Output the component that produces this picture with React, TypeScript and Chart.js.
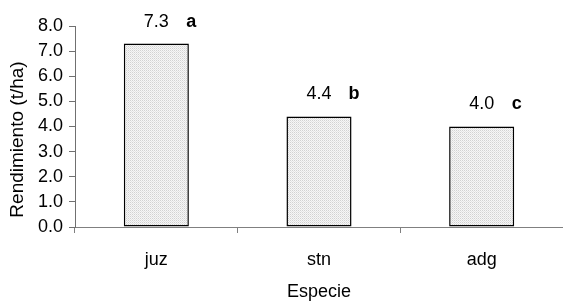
import React, { useEffect, useRef } from "react";
import { Chart, registerables } from "chart.js";

Chart.register(...registerables);

const categories = ["juz", "stn", "adg"];
const values = [7.3, 4.4, 4.0];
const letters = ["a", "b", "c"];
const yTicks = [0, 1, 2, 3, 4, 5, 6, 7, 8];
const xTitle = "Especie";
const yTitle = "Rendimiento (t/ha)";

const FONT = "'Liberation Sans', Arial, sans-serif";

function makePattern(): CanvasPattern | string {
  const c = document.createElement("canvas");
  c.width = 2;
  c.height = 2;
  const g = c.getContext("2d");
  if (!g) return "#e6e6e6";
  g.fillStyle = "#f6f6f6";
  g.fillRect(0, 0, 2, 2);
  g.fillStyle = "#d2d2d2";
  g.fillRect(0, 0, 1, 1);
  g.fillStyle = "#e4e4e4";
  g.fillRect(1, 1, 1, 1);
  const p = g.createPattern(c, "repeat");
  return p || "#e6e6e6";
}

const labelPlugin = {
  id: "valueLabels",
  afterDatasetsDraw(chart: any) {
    const ctx = chart.ctx;
    const meta = chart.getDatasetMeta(0);
    const area = chart.chartArea;
    ctx.save();
    ctx.fillStyle = "#000";
    ctx.textBaseline = "middle";
    meta.data.forEach((bar: any, i: number) => {
      ctx.font = `18px ${FONT}`;
      ctx.textAlign = "center";
      ctx.fillText(values[i].toFixed(1), bar.x, bar.y - 22);
      ctx.font = `bold 18px ${FONT}`;
      ctx.fillText(letters[i], bar.x + 35, bar.y - 22);
    });
    // axis titles
    ctx.font = `18px ${FONT}`;
    ctx.textAlign = "center";
    ctx.fillText(xTitle, (area.left + area.right) / 2, 292);
    ctx.translate(18, area.top + (area.bottom - area.top) / 2 + 13);
    ctx.rotate(-Math.PI / 2);
    ctx.font = `19px ${FONT}`;
    ctx.fillText(yTitle, 0, 0);
    ctx.restore();
  },
};

export default function App() {
  const ref = useRef<HTMLCanvasElement | null>(null);
  useEffect(() => {
    if (!ref.current) return;
    const chart = new Chart(ref.current, {
      type: "bar",
      data: {
        labels: categories,
        datasets: [
          {
            data: values,
            backgroundColor: makePattern() as any,
            borderColor: "#000",
            borderWidth: 1.5,
            borderSkipped: false,
            barPercentage: 0.4,
            categoryPercentage: 1,
          },
        ],
      },
      options: {
        animation: false,
        responsive: false,
        devicePixelRatio: 1,
        layout: { padding: { top: 26, right: 0, left: 0, bottom: 0 } },
        plugins: {
          legend: { display: false },
          tooltip: { enabled: false },
        },
        scales: {
          x: {
            offset: true,
            grid: {
              offset: true,
              drawOnChartArea: false,
              drawTicks: true,
              tickLength: 6,
              color: "#808080",
            },
            border: { color: "#808080", width: 1 },
            ticks: {
              color: "#000",
              font: { family: FONT, size: 18 },
              padding: 16,
            },
            afterFit(scale: any) {
              scale.height = 76;
            },
          },
          y: {
            min: 0,
            max: 8,
            afterBuildTicks(scale: any) {
              scale.ticks = yTicks.map((v) => ({ value: v }));
            },
            grid: {
              drawOnChartArea: false,
              drawTicks: true,
              tickLength: 6,
              color: "#707070",
            },
            border: { color: "#707070", width: 1 },
            ticks: {
              color: "#000",
              font: { family: FONT, size: 18 },
              padding: 6,
              callback: (v: any) => Number(v).toFixed(1),
            },
            afterFit(scale: any) {
              scale.width = 75;
            },
          },
        },
      },
      plugins: [labelPlugin],
    });
    return () => chart.destroy();
  }, []);
  return (
    <div style={{ position: "fixed", left: 0, top: 0, width: 563, height: 303, background: "#fff" }}>
      <canvas ref={ref} width={563} height={303} style={{ width: 563, height: 303 }} />
    </div>
  );
}
